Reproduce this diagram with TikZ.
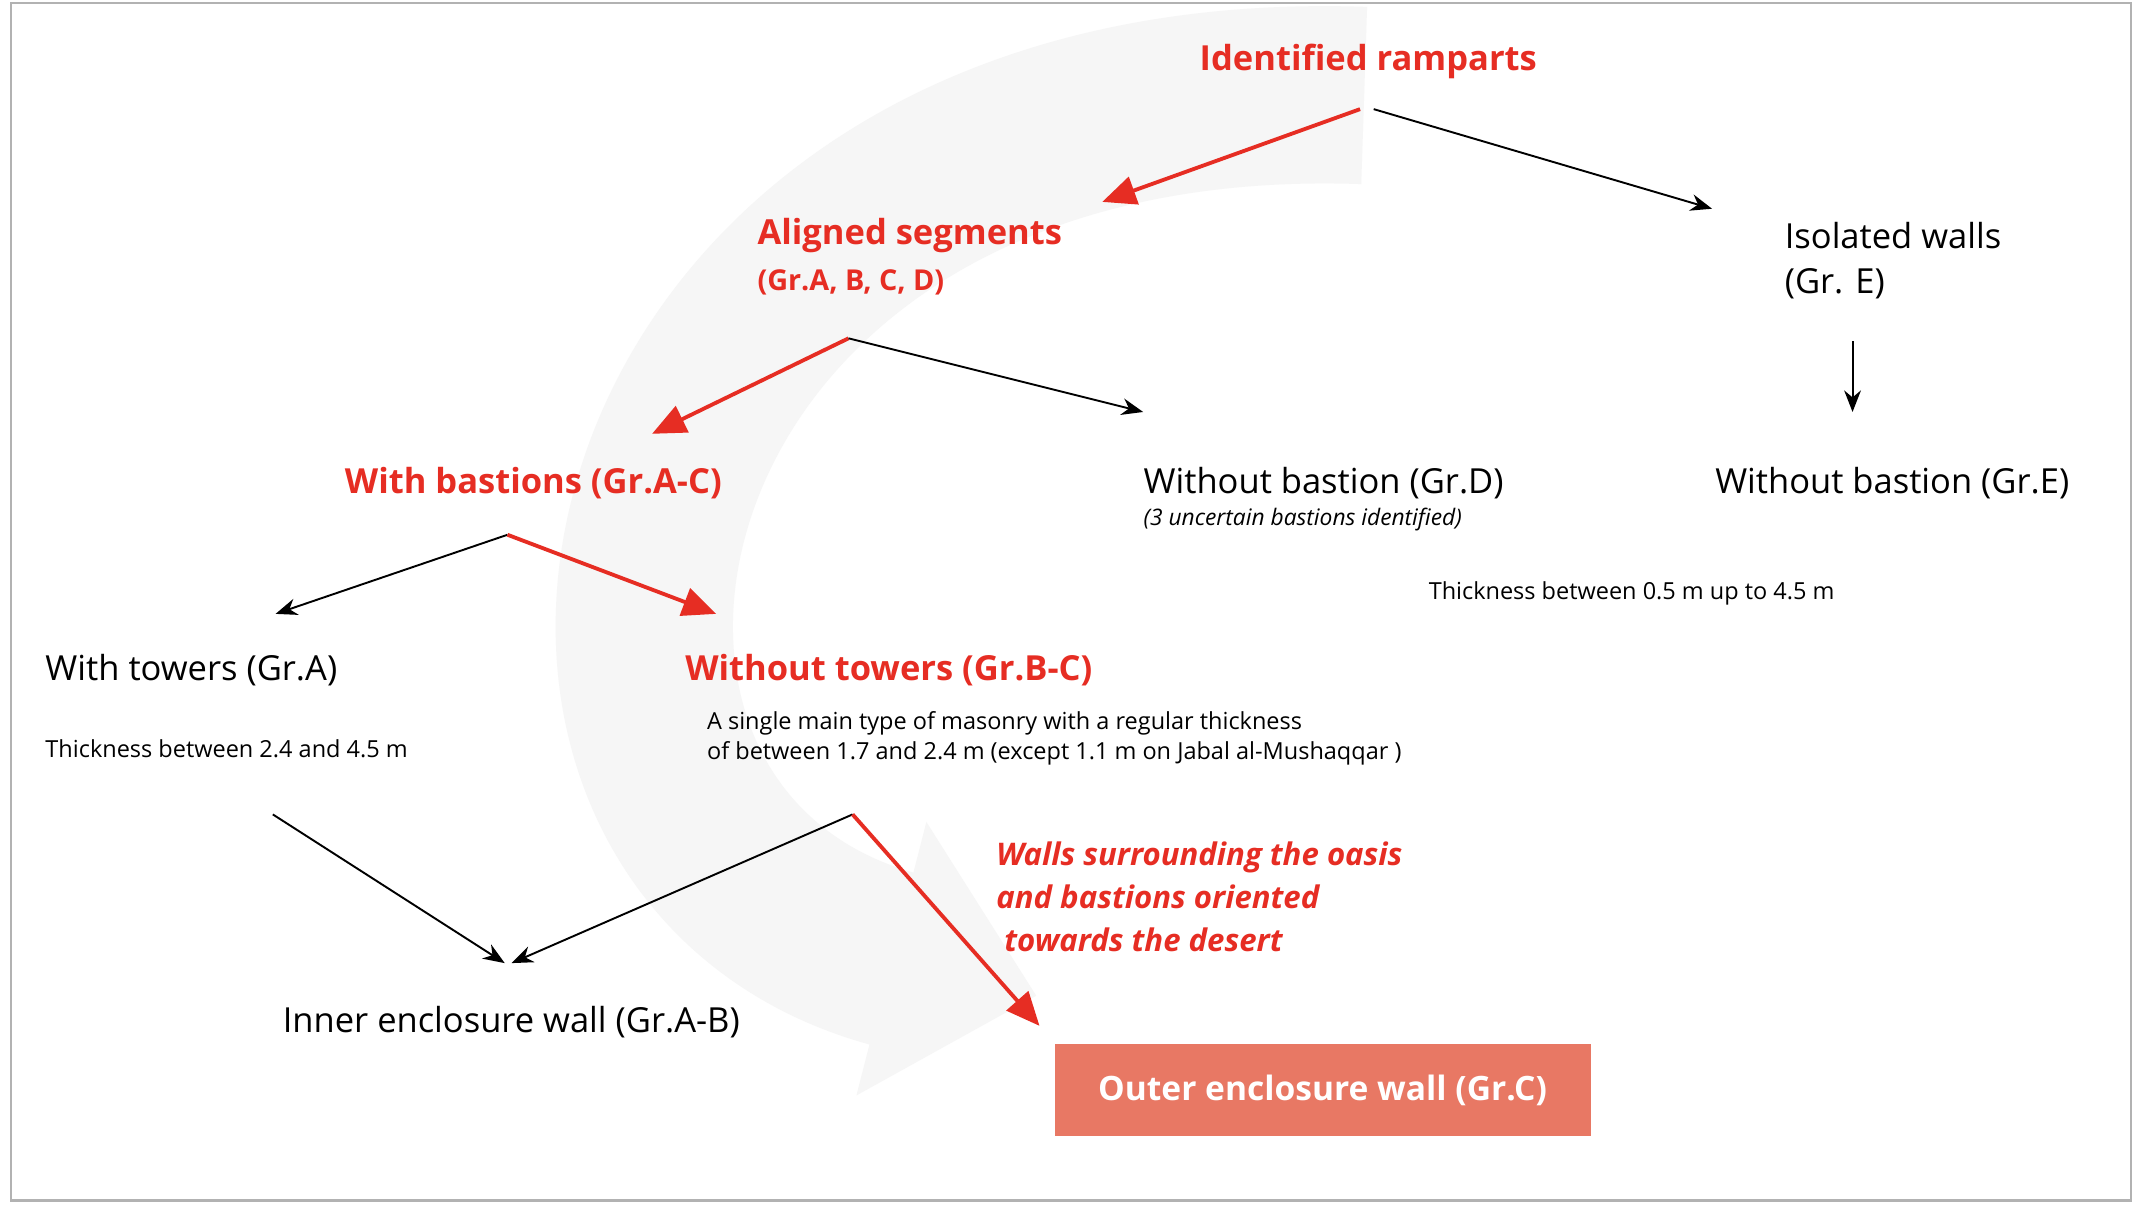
\documentclass[tikz,border=0pt]{standalone}
\usepackage{fontspec}
\setmainfont{Open Sans}
\usetikzlibrary{arrows.meta}
\definecolor{rred}{RGB}{230,45,35}
\definecolor{boxc}{RGB}{232,120,100}
\begin{document}
\begin{tikzpicture}[x=0.02cm,y=-0.02cm,
  lab/.style={inner sep=0pt,font=\fontsize{14.4}{16}\selectfont},
  rlab/.style={lab,text=rred,font=\fontsize{14.4}{16}\selectfont\bfseries},
  small/.style={inner sep=0pt,font=\fontsize{9.8}{11}\selectfont},
  blk/.style={-{Stealth[length=9pt,width=7pt]},line width=0.8pt},
  red/.style={-{Triangle[length=14pt,width=12pt]},line width=1.6pt,draw=rred}]
\useasboundingbox (0,0) rectangle (1568,883);
\fill[white] (0,0) rectangle (1568,883);
\draw[gray!60,line width=1pt] (8,2) rectangle (1562,880);
% background swoosh
\draw[gray!7,line width=2.6cm,-{Triangle[length=2.2cm,width=4cm]}] (1000,70) .. controls (430,50) and (330,620) .. (760,730);
% texts
\node[rlab] (ir) at (1003,45) {Identified ramparts};
\node[rlab,anchor=west] (as) at (555,173) {Aligned segments};
\node[lab,anchor=west,text=rred,font=\fontsize{12}{14}\selectfont\bfseries] (asg) at (555,207) {(Gr.A, B, C, D)};
\node[lab,anchor=west] (iw) at (1308,173) {Isolated walls};
\node[lab,anchor=west] (iwg) at (1308,208) {(Gr. E)};
\node[rlab] (wb) at (391,354) {With bastions (Gr.A-C)};
\node[lab,anchor=west] (wbd) at (838,354) {Without bastion (Gr.D)};
\node[small,anchor=west,font=\fontsize{9.5}{11}\selectfont\itshape] (unc) at (838,381) {(3 uncertain bastions identified)};
\node[lab,anchor=west] (wbe) at (1257,354) {Without bastion (Gr.E)};
\node[small,anchor=west] (th1) at (1047,435) {Thickness between 0.5 m up to 4.5 m};
\node[lab,anchor=west] (wt) at (33,491) {With towers (Gr.A)};
\node[small,anchor=west] (th2) at (33,549) {Thickness between 2.4 and 4.5 m};
\node[rlab,anchor=west] (wot) at (502,491) {Without towers (Gr.B-C)};
\node[small,anchor=north west,align=left,font=\fontsize{9.8}{12.8}\selectfont] (sm) at (518,521) {A single main type of masonry with a regular thickness\\of between 1.7 and 2.4 m (except 1.1 m on Jabal al-Mushaqqar )};
\node[anchor=north west,align=left,inner sep=0pt,text=rred,font=\fontsize{13}{17.8}\selectfont\bfseries\itshape] (ws) at (730,617) {Walls surrounding the oasis\\and bastions oriented\\\ towards the desert};
\node[lab,anchor=west] (inn) at (207,749) {Inner enclosure wall (Gr.A-B)};
\node[fill=boxc,text=white,font=\fontsize{14}{16}\selectfont\bfseries,minimum width=393*0.02cm,minimum height=68*0.02cm,inner sep=0pt] (out) at (969.5,799) {Outer enclosure wall (Gr.C)};
% arrow endpoints
\coordinate (a1) at (997,80); \coordinate (a1e) at (808,148);
\coordinate (a2) at (1007,80); \coordinate (a2e) at (1255,153);
\coordinate (b1) at (622,248); \coordinate (b1e) at (478,318); \coordinate (b2e) at (838,302);
\coordinate (c1) at (1358,250); \coordinate (c1e) at (1358,302);
\coordinate (d1) at (372,392); \coordinate (d1e) at (202,450); \coordinate (d2e) at (525,450);
\coordinate (e1) at (200,597); \coordinate (e1e) at (370,706);
\coordinate (f1) at (625,597); \coordinate (f1e) at (375,706); \coordinate (f2e) at (762,752);
\draw[red] (a1) -- (a1e);
\draw[blk] (a2) -- (a2e);
\draw[red] (b1) -- (b1e);
\draw[blk] (b1) -- (b2e);
\draw[blk] (c1) -- (c1e);
\draw[blk] (d1) -- (d1e);
\draw[red] (d1) -- (d2e);
\draw[blk] (e1) -- (e1e);
\draw[blk] (f1) -- (f1e);
\draw[red] (f1) -- (f2e);
\end{tikzpicture}
\end{document}
